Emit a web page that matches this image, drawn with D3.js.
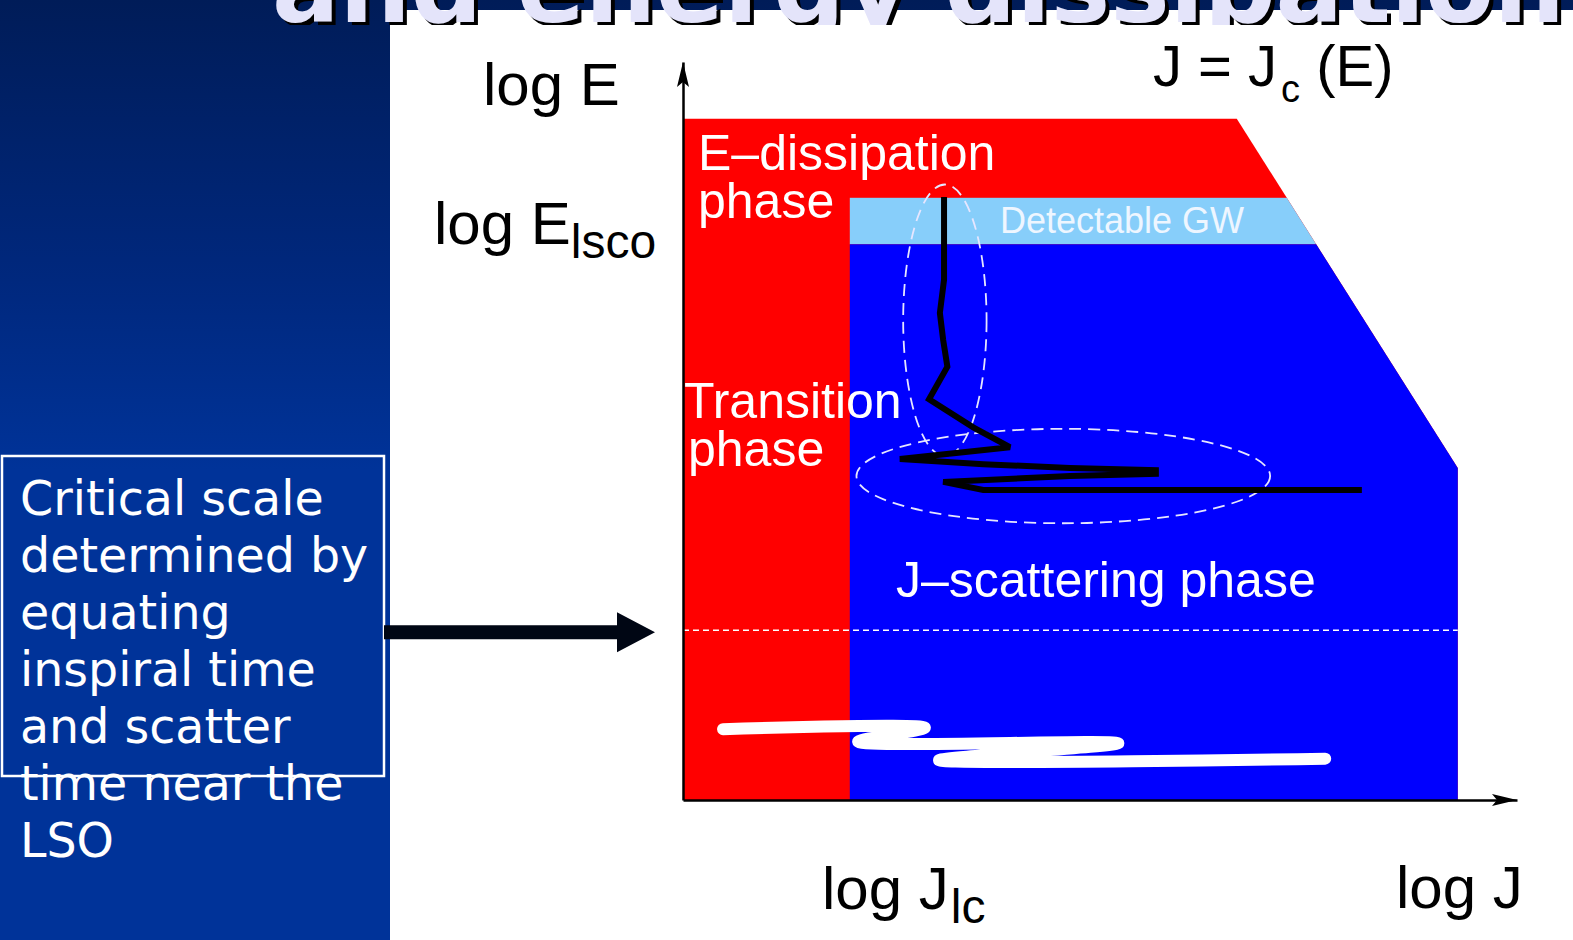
<!DOCTYPE html>
<html>
<head>
<meta charset="utf-8">
<script src="https://cdn.jsdelivr.net/npm/d3@7"></script>
<style>
  html, body { margin: 0; padding: 0; background: #001f5f; overflow: hidden; }
  svg { display: block; }
</style>
</head>
<body>
<script>
// ---- Phase diagram in the (log J, log E) plane, axis units 0..100 ----

// Outer boundary J = Jc(E): flat top, then a straight slope down to the right edge
const boundaryJ = [0, 66.4, 92.9, 92.9];
const boundaryE = [92.3, 92.3, 45.0, 0];

// Characteristic levels
const jLc = 20.0;        // log J_lc : left edge of the scattering region
const eLsco = 81.6;      // log E_lsco : top of the detectable band
const eGwLow = 75.3;     // bottom of the detectable band
const eCritical = 23.0;  // critical energy scale (dashed line)

// Sample trajectory of one binary through the plane
const trackJ = [31.3, 31.3, 30.8, 31.2, 31.7, 29.5, 34.8, 39.2, 26.0, 36.0, 46.4, 56.7, 56.7, 46.4, 31.2, 36.0, 81.4];
const trackE = [81.7, 70.5, 66.0, 62.3, 58.7, 54.3, 50.5, 47.8, 46.2, 45.5, 45.0, 44.7, 44.2, 43.9, 43.1, 42.0, 42.0];

// Dashed outlines around the two stages of the trajectory: [centre J, centre E, half-width J, half-height E]
const stageOutlines = [
  [31.4, 65.0, 5.0, 18.4],
  [45.6, 43.9, 24.8, 6.4]
];

// White scribble near the bottom of the diagram
const scribbleJ = [4.8, 29.0, 21.0, 52.2, 30.7, 77.0];
const scribbleE = [9.6, 9.8, 7.9, 7.7, 5.4, 5.6];

// Text
const titleText = "and energy dissipation";
const phaseLabels = ["E\u2013dissipation", "phase", "Transition", "phase", "J\u2013scattering phase"];
const bandLabel = "Detectable GW";
const noteLines = ["Critical scale", "determined by", "equating", "inspiral time", "and scatter", "time near the", "LSO"];

const W = 1573, H = 940;
const svg = d3.select("body").append("svg").attr("width", W).attr("height", H);
const defs = svg.append("defs");

// Slide background
const grad = defs.append("linearGradient").attr("id", "slideBg")
  .attr("x1", 0).attr("y1", 0).attr("x2", 0).attr("y2", 1);
grad.append("stop").attr("offset", "0").attr("stop-color", "#001c58");
grad.append("stop").attr("offset", "0.3").attr("stop-color", "#00287e");
grad.append("stop").attr("offset", "0.5").attr("stop-color", "#003399");
grad.append("stop").attr("offset", "1").attr("stop-color", "#003399");
svg.append("rect").attr("width", W).attr("height", H).attr("fill", "url(#slideBg)");

// White figure panel
svg.append("rect").attr("x", 390).attr("y", 10).attr("width", W - 390).attr("height", H - 10).attr("fill", "#ffffff");

// Title (runs off the top of the slide; only its lower edge shows)
defs.append("clipPath").attr("id", "titleClip")
  .append("rect").attr("x", 0).attr("y", 0).attr("width", W).attr("height", 25);
const titleFont = { family: "'DejaVu Sans', sans-serif", size: 100 };
const title = svg.append("g").attr("clip-path", "url(#titleClip)");
title.append("text").attr("x", 276).attr("y", 26)
  .attr("font-family", titleFont.family).attr("font-weight", "bold").attr("font-size", titleFont.size)
  .attr("fill", "#000000").text(titleText);
title.append("text").attr("x", 272).attr("y", 22)
  .attr("font-family", titleFont.family).attr("font-weight", "bold").attr("font-size", titleFont.size)
  .attr("fill", "#e4e4fa").text(titleText);

// Scales
const x = d3.scaleLinear().domain([0, 100]).range([683, 1517]);
const y = d3.scaleLinear().domain([0, 100]).range([800, 62]);

const plot = svg.append("g");

// Allowed region under J = Jc(E)
const regionPts = [[0, 0]].concat(boundaryJ.map((j, i) => [j, boundaryE[i]]));
const regionPath = d3.line().x(d => x(d[0])).y(d => y(d[1]))(regionPts) + "Z";

defs.append("clipPath").attr("id", "allowed").append("path").attr("d", regionPath);

plot.append("path").attr("d", regionPath).attr("fill", "#ff0000");

const clipped = plot.append("g").attr("clip-path", "url(#allowed)");
clipped.append("rect")
  .attr("x", x(jLc)).attr("y", y(eLsco))
  .attr("width", x(100) - x(jLc)).attr("height", y(eGwLow) - y(eLsco))
  .attr("fill", "#87cefa");
clipped.append("rect")
  .attr("x", x(jLc)).attr("y", y(eGwLow))
  .attr("width", x(100) - x(jLc)).attr("height", y(0) - y(eGwLow))
  .attr("fill", "#0000ff");

// Region labels
const sans = "'Liberation Sans', Arial, Helvetica, sans-serif";
const labelPos = [[698, 170], [698, 218], [684, 418], [688, 466], [896, 597]];
plot.selectAll("text.phase").data(phaseLabels).join("text")
  .attr("class", "phase")
  .attr("x", (d, i) => labelPos[i][0]).attr("y", (d, i) => labelPos[i][1])
  .attr("font-family", sans).attr("font-size", 50).attr("fill", "#ffffff")
  .text(d => d);

plot.append("text").attr("x", 1000).attr("y", 233)
  .attr("font-family", sans).attr("font-size", 36).attr("fill", "#eef6ff")
  .text(bandLabel);

// Critical-scale dashed line
plot.append("line")
  .attr("x1", x(0)).attr("x2", x(boundaryJ[boundaryJ.length - 1]))
  .attr("y1", y(eCritical)).attr("y2", y(eCritical))
  .attr("stroke", "#ffffff").attr("stroke-width", 1.5).attr("stroke-dasharray", "6,4");

// Dashed outlines of the trajectory stages
plot.selectAll("ellipse.stage").data(stageOutlines).join("ellipse")
  .attr("class", "stage")
  .attr("cx", d => x(d[0])).attr("cy", d => y(d[1]))
  .attr("rx", d => x(d[2]) - x(0)).attr("ry", d => y(0) - y(d[3]))
  .attr("fill", "none").attr("stroke", "#e6e6ff").attr("stroke-width", 1.8)
  .attr("stroke-dasharray", "12,7");

// Trajectory
const trackPts = trackJ.map((j, i) => [j, trackE[i]]);
plot.append("path")
  .attr("d", d3.line().x(d => x(d[0])).y(d => y(d[1]))(trackPts))
  .attr("fill", "none").attr("stroke", "#000000").attr("stroke-width", 6)
  .attr("stroke-linejoin", "miter").attr("stroke-miterlimit", 3);

// White scribble
const scribblePts = scribbleJ.map((j, i) => [j, scribbleE[i]]);
plot.append("path")
  .attr("d", d3.line().x(d => x(d[0])).y(d => y(d[1])).curve(d3.curveCatmullRom.alpha(0.5))(scribblePts))
  .attr("fill", "none").attr("stroke", "#ffffff").attr("stroke-width", 12)
  .attr("stroke-linecap", "round").attr("stroke-linejoin", "round");

// Axes (no ticks, arrowheads at the ends)
plot.append("g").attr("transform", `translate(0,${y(0)})`)
  .call(d3.axisBottom(x).tickValues([]).tickSizeOuter(0))
  .call(g => g.select(".domain").attr("stroke", "#000").attr("stroke-width", 2.5));
plot.append("g").attr("transform", `translate(${x(0)},0)`)
  .call(d3.axisLeft(y).tickValues([]).tickSizeOuter(0))
  .call(g => g.select(".domain").attr("stroke", "#000").attr("stroke-width", 2.5));

const xt = x(100), yt = y(100);
plot.append("path")
  .attr("d", `M${xt},${y(0)} L${xt - 25},${y(0) - 6} L${xt - 20},${y(0)} L${xt - 25},${y(0) + 6} Z`)
  .attr("fill", "#000");
plot.append("path")
  .attr("d", `M${x(0)},${yt} L${x(0) - 6},${yt + 25} L${x(0)},${yt + 20} L${x(0) + 6},${yt + 25} Z`)
  .attr("fill", "#000");

// Axis labels
const axisLabels = svg.append("g").attr("font-family", sans).attr("font-size", 60).attr("fill", "#000");
axisLabels.append("text").attr("x", 483).attr("y", 105).text("log E");
const lsco = axisLabels.append("text").attr("x", 434).attr("y", 244).text("log E");
lsco.append("tspan").attr("font-size", 48).attr("dy", 14).text("lsco");
const jc = axisLabels.append("text").attr("x", 1153).attr("y", 86).attr("font-size", 58).text("J = J");
jc.append("tspan").attr("font-size", 38).attr("dx", 4).attr("dy", 16).text("c");
jc.append("tspan").attr("dy", -16).text(" (E)");
const jlc = axisLabels.append("text").attr("x", 822).attr("y", 909).text("log J");
jlc.append("tspan").attr("font-size", 48).attr("dx", 2).attr("dy", 14).text("lc");
axisLabels.append("text").attr("x", 1396).attr("y", 908).text("log J");

// Note box with arrow pointing at the critical scale
svg.append("rect").attr("x", 2).attr("y", 456).attr("width", 382).attr("height", 320)
  .attr("fill", "none").attr("stroke", "#ffffff").attr("stroke-width", 2.5);
svg.append("g").selectAll("text").data(noteLines).join("text")
  .attr("x", 20).attr("y", (d, i) => 515 + i * 57)
  .attr("font-family", "'DejaVu Sans', sans-serif").attr("font-size", 47.5).attr("fill", "#ffffff")
  .text(d => d);

const ay = y(eCritical) + 2;
svg.append("path")
  .attr("d", `M384,${ay - 7} L617,${ay - 7} L617,${ay - 20} L655,${ay} L617,${ay + 20} L617,${ay + 7} L384,${ay + 7} Z`)
  .attr("fill", "#000614");
</script>
</body>
</html>
